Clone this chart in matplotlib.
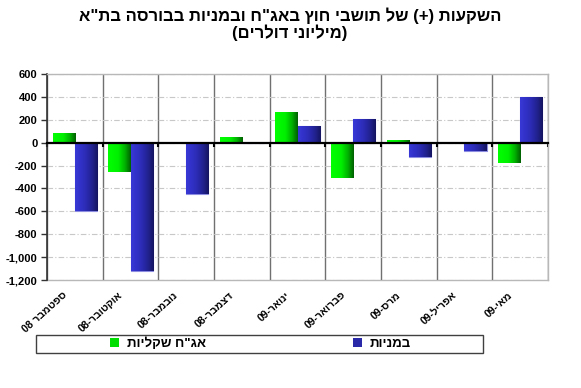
import matplotlib
matplotlib.use("Agg")
import matplotlib.pyplot as plt
import numpy as np
import re
from matplotlib.colors import LinearSegmentedColormap
from matplotlib.patches import Rectangle, Patch
import matplotlib.transforms as mtransforms

plt.rcParams['font.family'] = ['Liberation Sans', 'DejaVu Sans']

# ---------------- data ----------------
categories = ["ספטמבר 08", "אוקטובר-08", "נובמבר-08", "דצמבר-08", "ינואר-09",
              "פברואר-09", "מרס-09", "אפריל-09", "מאי-09"]
bonds = [85, -260, 0, 50, 265, -307, 23, 2, -181]        # אג"ח שקליות
stocks = [-600, -1125, -452, 0, 142, 204, -128, -70, 397]  # במניות
series_names = ['אג"ח שקליות', 'במניות']
title_line1 = 'השקעות (+) של תושבי חוץ באג"ח ובמניות בבורסה בת"א'
title_line2 = '(מיליוני דולרים)'
yticks = [600, 400, 200, 0, -200, -400, -600, -800, -1000, -1200]


def vis(s):
    """Convert logical-order Hebrew text to visual (LTR glyph) order."""
    r = s[::-1]
    r = re.sub(r'[0-9A-Za-z.,+]+', lambda m: m.group(0)[::-1], r)
    mirror = {'(': ')', ')': '('}
    return ''.join(mirror.get(c, c) for c in r)


W, H = 581, 388
fig = plt.figure(figsize=(W / 100, H / 100), dpi=100)
ax = fig.add_axes([47 / W, 1 - 280 / H, (548 - 47) / W, (280 - 74) / H])

n = len(categories)
x = np.arange(n)
bw = 0.4

green_cmap = LinearSegmentedColormap.from_list(
    'g', [(0, '#00ff00'), (0.45, '#00f000'), (0.75, '#00b000'), (1, '#006000')])
blue_cmap = LinearSegmentedColormap.from_list(
    'b', [(0, '#3838d8'), (0.45, '#2c2cb8'), (0.75, '#222290'), (1, '#141460')])

grad = np.linspace(0, 1, 64).reshape(1, -1)

bars_g = ax.bar(x - bw / 2, bonds, bw, color='#00d000', linewidth=0, zorder=3)
bars_b = ax.bar(x + bw / 2, stocks, bw, color='#2a2aa8', edgecolor='#8c8ce0',
                linewidth=0.8, zorder=3)

for bars, cmap in ((bars_g, green_cmap), (bars_b, blue_cmap)):
    for b in bars:
        h = b.get_height()
        if h == 0:
            continue
        x0, y0 = b.get_x(), b.get_y()
        im = ax.imshow(grad, cmap=cmap, aspect='auto', zorder=3.5,
                       extent=(x0, x0 + b.get_width(), y0, y0 + h),
                       interpolation='bilinear')
        im.set_clip_path(b)

ax.set_xlim(-0.5, n - 0.5)
ax.set_ylim(-1200, 600)

# horizontal gridlines
ax.set_yticks(yticks)
ax.set_yticklabels([f"{v:,}" for v in yticks], fontsize=8, fontweight='bold')
ax.yaxis.grid(True, color='#c8c8c8', linestyle=(0, (5, 2, 1, 2)), linewidth=0.8, zorder=0)
ax.tick_params(axis='y', direction='out', length=4, width=1, color='#333333', pad=3)

# vertical lines at category boundaries
boundaries = np.arange(n + 1) - 0.5
ax.set_xticks(boundaries)
ax.set_xticklabels([''] * (n + 1))
ax.xaxis.grid(True, color='#707070', linestyle='-', linewidth=1.0, zorder=0)
ax.set_axisbelow(True)
ax.tick_params(axis='x', direction='out', length=3, width=1.5, color='black')

# spines
ax.spines['bottom'].set_position(('data', 0))
ax.spines['bottom'].set_color('black')
ax.spines['bottom'].set_linewidth(1.6)
ax.spines['bottom'].set_zorder(5)
ax.spines['left'].set_color('#333333')
ax.spines['left'].set_linewidth(1.2)
for s in ('top', 'right'):
    ax.spines[s].set_color('#b8b8b8')
    ax.spines[s].set_linewidth(1.0)

# category labels at bottom via secondary axis
sec = ax.secondary_xaxis('bottom')
sec.set_xticks(x)
sec.set_xticklabels([vis(c) for c in categories], rotation=42, ha='right', va='top',
                    fontsize=7.5, fontweight='bold')
sec.tick_params(length=0, pad=7)
sec.spines['bottom'].set_color('#b8b8b8')
sec.spines['bottom'].set_linewidth(1.0)
offset = mtransforms.ScaledTranslation(-6 / 100, 0, fig.dpi_scale_trans)
for lab in sec.get_xticklabels():
    lab.set_transform(lab.get_transform() + offset)

# title
cx = 290 / W
fig.text(cx, 1 - 16 / H, vis(title_line1), ha='center', va='center',
         fontsize=12, fontweight='bold')
fig.text(cx, 1 - 33 / H, vis(title_line2), ha='center', va='center',
         fontsize=12, fontweight='bold')

# legend box
fig.patches.append(Rectangle((36 / W, 1 - 353 / H), (483 - 36) / W, 18 / H,
                             transform=fig.transFigure, facecolor='white',
                             edgecolor='#404040', linewidth=1.0, zorder=1))
leg_y = 1 - 344 / H
for name, col, lx in ((series_names[0], '#00dd00', 158 / W), (series_names[1], '#2a2aa8', 382 / W)):
    lg = fig.legend(handles=[Patch(facecolor=col, edgecolor='none')], labels=[vis(name)],
                    loc='center', bbox_to_anchor=(lx, leg_y), frameon=False,
                    prop={'weight': 'bold', 'size': 9.5}, handlelength=0.7,
                    handleheight=0.7, handletextpad=0.6, borderpad=0)
    lg.set_zorder(2)

fig.savefig('out.png', dpi=100)
